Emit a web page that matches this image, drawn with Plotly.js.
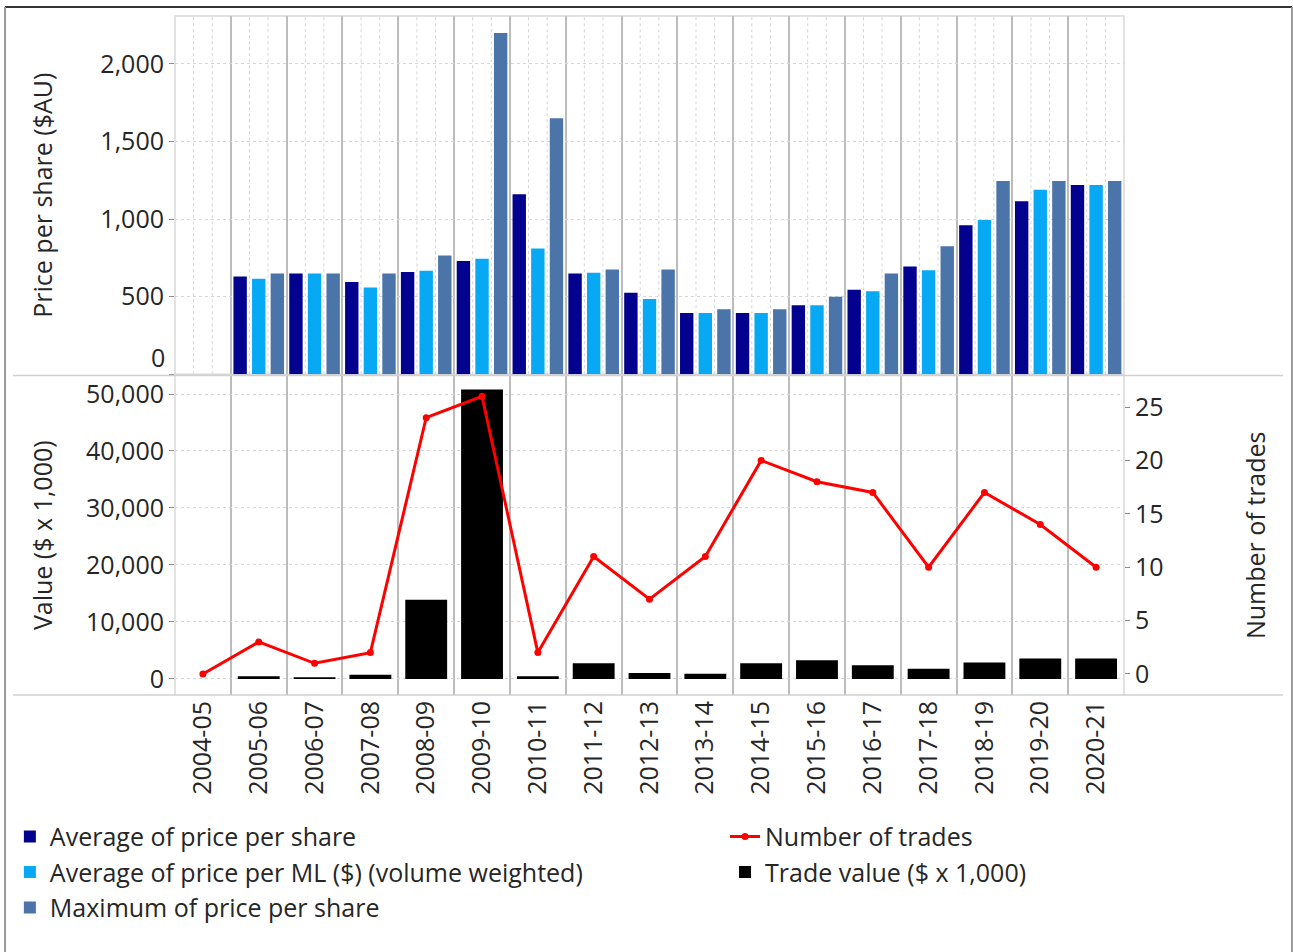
<!DOCTYPE html>
<html>
<head>
<meta charset="utf-8">
<script src="https://cdn.plot.ly/plotly-3.0.1.min.js"></script>
<style>
  html, body { margin: 0; padding: 0; background: #ffffff; }
  #chart { width: 1293px; height: 952px; }
</style>
</head>
<body>
<div id="chart"></div>
<script>
// ---- data ----
const categories = ['2004-05','2005-06','2006-07','2007-08','2008-09','2009-10','2010-11','2011-12','2012-13','2013-14','2014-15','2015-16','2016-17','2017-18','2018-19','2019-20','2020-21'];
const avgPricePerShare = [null, 630, 650, 595, 660, 730, 1160, 650, 525, 395, 395, 445, 545, 695, 960, 1115, 1220];
const avgPricePerML    = [null, 615, 650, 560, 667, 745, 810, 655, 485, 395, 395, 445, 535, 670, 995, 1190, 1220];
const maxPricePerShare = [null, 650, 650, 650, 765, 2200, 1650, 675, 675, 420, 420, 500, 650, 825, 1245, 1245, 1245];
const tradeValue       = [0, 500, 300, 750, 13900, 50800, 500, 2750, 1050, 900, 2750, 3300, 2400, 1800, 2900, 3600, 3600];
const numberOfTrades   = [0, 3, 1, 2, 24, 26, 2, 11, 7, 11, 20, 18, 17, 10, 17, 14, 10];
const priceTicks = [0, 500, 1000, 1500, 2000];
const priceTickText = ['', '500', '1,000', '1,500', '2,000'];

const FONT = 'Open Sans, Noto Sans, sans-serif';
const TXT = '#262626';
const FS = 25;

const traces = [
  {type:'bar', name:'Average of price per share', x:categories, y:avgPricePerShare,
   xaxis:'x', yaxis:'y', marker:{color:'#02028f'}, legend:'legend', legendgroup:'a'},
  {type:'bar', name:'Average of price per ML ($) (volume weighted)', x:categories, y:avgPricePerML,
   xaxis:'x', yaxis:'y', marker:{color:'#07a9f4'}, legend:'legend', legendgroup:'b'},
  {type:'bar', name:'Maximum of price per share', x:categories, y:maxPricePerShare,
   xaxis:'x', yaxis:'y', marker:{color:'#4b74a9'}, legend:'legend', legendgroup:'c'},
  {type:'scatter', mode:'lines+markers', name:'Number of trades', x:categories, y:numberOfTrades,
   xaxis:'x', yaxis:'y3', line:{color:'#ff0000', width:3}, marker:{color:'#ff0000', size:7},
   legend:'legend2', legendgroup:'d'},
  {type:'bar', name:'Trade value ($ x 1,000)', x:categories, y:tradeValue, width:0.75,
   xaxis:'x', yaxis:'y2', marker:{color:'#000000'}, legend:'legend2', legendgroup:'e'}
];

// decorative dotted separators inside each category of the top panel
const shapes = [];
for (let i = 0; i < categories.length; i++) {
  for (let j = 1; j <= 2; j++) {
    shapes.push({type:'line', xref:'x', yref:'y domain', x0:i-0.5+j/3, x1:i-0.5+j/3, y0:0, y1:1,
      line:{color:'#d4d4d4', width:1, dash:'dot'}, layer:'below'});
  }
}
const TOPB = 0.4723;
// top panel frame
shapes.push({type:'rect', xref:'paper', yref:'paper', x0:0, x1:1, y0:TOPB, y1:1,
  line:{color:'#d9d9d9', width:1.5}, layer:'below'});
// bottom panel side lines
shapes.push({type:'line', xref:'paper', yref:'paper', x0:0, x1:0, y0:0, y1:TOPB, line:{color:'#d9d9d9', width:1.5}});
shapes.push({type:'line', xref:'paper', yref:'paper', x0:1, x1:1, y0:0, y1:TOPB, line:{color:'#d9d9d9', width:1.5}});
// full-width separators
shapes.push({type:'line', xref:'paper', yref:'paper', x0:-0.1707, x1:1.1675, y0:0.4705, y1:0.4705, line:{color:'#d0d0d0', width:1.5}});
shapes.push({type:'line', xref:'paper', yref:'paper', x0:-0.1707, x1:1.1675, y0:0, y1:0, line:{color:'#d0d0d0', width:1.5}});
// outer border
shapes.push({type:'line', xref:'paper', yref:'paper', x0:-0.1791, x1:1.177, y0:1.0133, y1:1.0133, line:{color:'#333333', width:2}});
shapes.push({type:'line', xref:'paper', yref:'paper', x0:-0.1791, x1:-0.1791, y0:1.0133, y1:-0.38, line:{color:'#9a9a9a', width:2}});
shapes.push({type:'line', xref:'paper', yref:'paper', x0:1.177, x1:1.177, y0:1.0133, y1:-0.38, line:{color:'#9a9a9a', width:2}});

const layout = {
  width:1293, height:952,
  margin:{l:175, r:169, t:16, b:257, autoexpand:false},
  paper_bgcolor:'#ffffff', plot_bgcolor:'#ffffff',
  font:{family:FONT, color:TXT, size:FS},
  barmode:'group', bargap:0.0, bargroupgap:0.28,
  xaxis:{
    type:'category', anchor:'y2', range:[-0.5, 16.5], tickson:'boundaries', automargin:false,
    showgrid:true, gridcolor:'#bcbcbc', gridwidth:2,
    showline:false, ticks:'', tickangle:-90, zeroline:false,
    tickfont:{size:FS, family:FONT, color:TXT}
  },
  yaxis:{
    domain:[TOPB, 1], range:[0, 2309], tickvals:priceTicks, ticktext:priceTickText, automargin:false,
    showgrid:true, gridcolor:'#d6d6d6', griddash:'dot', gridwidth:1, zeroline:false,
    ticks:'outside', ticklen:5, tickcolor:'#8c8c8c', showline:false,
    tickfont:{size:FS, family:FONT, color:TXT},
    title:{text:'Price per share ($AU)', font:{size:FS, family:FONT, color:TXT}, standoff:40}
  },
  yaxis2:{
    domain:[0, 0.4705], range:[-2810, 53240], tickvals:[0,10000,20000,30000,40000,50000], tickformat:',',
    showgrid:true, gridcolor:'#d6d6d6', griddash:'dot', gridwidth:1, zeroline:false, automargin:false,
    ticks:'outside', ticklen:5, tickcolor:'#8c8c8c', showline:false, anchor:'x',
    tickfont:{size:FS, family:FONT, color:TXT},
    title:{text:'Value ($ x 1,000)', font:{size:FS, family:FONT, color:TXT}, standoff:26}
  },
  yaxis3:{
    overlaying:'y2', side:'right', anchor:'x', range:[-1.97, 27.95], tickvals:[0,5,10,15,20,25],
    showgrid:false, zeroline:false, ticks:'outside', ticklen:5, tickcolor:'#8c8c8c', showline:false,
    automargin:false, tickfont:{size:FS, family:FONT, color:TXT},
    title:{text:'Number of trades', font:{size:FS, family:FONT, color:TXT}, standoff:84}
  },
  annotations:[
    {text:'0', xref:'paper', yref:'y', x:-0.0085, y:0, xanchor:'right', yanchor:'middle', yshift:17,
     showarrow:false, font:{size:FS, family:FONT, color:TXT}}
  ],
  legend:{
    x:-0.174, xanchor:'left', y:-0.175, yanchor:'top', orientation:'v',
    traceorder:'grouped', tracegroupgap:0, font:{size:FS, family:FONT, color:TXT},
    bgcolor:'rgba(0,0,0,0)', itemclick:false
  },
  legend2:{
    x:0.5796, xanchor:'left', y:-0.175, yanchor:'top', orientation:'v',
    traceorder:'grouped', tracegroupgap:0, font:{size:FS, family:FONT, color:TXT},
    bgcolor:'rgba(0,0,0,0)', itemclick:false
  },
  shapes:shapes,
  showlegend:true
};

Plotly.newPlot('chart', traces, layout, {displayModeBar:false, staticPlot:true});
</script>
</body>
</html>
